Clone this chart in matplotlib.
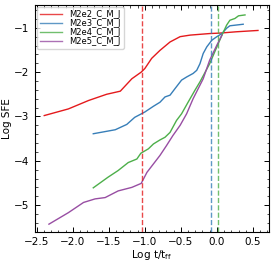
import matplotlib
matplotlib.use("Agg")
import matplotlib.pyplot as plt
from matplotlib.ticker import AutoMinorLocator

# log t/tff and log SFE for each run
x_e2 = [-2.395, -2.06, -1.78, -1.53, -1.34, -1.18, -1.05, -1.00, -0.905, -0.79,
        -0.65, -0.51, -0.37, -0.10, 0.04, 0.27, 0.57]
y_e2 = [-2.98, -2.83, -2.64, -2.50, -2.43, -2.15, -2.00, -1.92, -1.69, -1.51,
        -1.32, -1.20, -1.165, -1.13, -1.12, -1.09, -1.06]

x_e3 = [-1.715, -1.41, -1.25, -1.14, -1.00, -0.88, -0.79, -0.72, -0.65, -0.58,
        -0.49, -0.42, -0.33, -0.28, -0.235, -0.19, -0.14, -0.07, 0.00, 0.07,
        0.135, 0.18, 0.365]
y_e3 = [-3.39, -3.30, -3.18, -3.02, -2.90, -2.77, -2.68, -2.56, -2.52, -2.37,
        -2.18, -2.11, -2.03, -1.96, -1.81, -1.58, -1.43, -1.28, -1.20, -1.13,
        -1.01, -0.955, -0.92]

x_e4 = [-1.715, -1.51, -1.37, -1.23, -1.11, -1.055, -0.95, -0.88, -0.79, -0.72,
        -0.65, -0.56, -0.49, -0.40, -0.305, -0.235, -0.10, 0.00, 0.07, 0.135,
        0.18, 0.25, 0.30, 0.39]
y_e4 = [-4.61, -4.37, -4.22, -4.04, -3.96, -3.83, -3.73, -3.62, -3.53, -3.47,
        -3.36, -3.09, -2.94, -2.68, -2.41, -2.22, -1.81, -1.43, -1.165, -0.94,
        -0.83, -0.79, -0.73, -0.71]

x_e5 = [-2.33, -2.06, -1.85, -1.69, -1.55, -1.37, -1.18, -1.05, -0.97, -0.88,
        -0.79, -0.70, -0.61, -0.51, -0.42, -0.33, -0.19, -0.10, 0.00, 0.07]
y_e5 = [-5.43, -5.17, -4.94, -4.86, -4.83, -4.68, -4.60, -4.51, -4.26, -4.07,
        -3.88, -3.66, -3.43, -3.20, -2.94, -2.60, -2.15, -1.73, -1.39, -1.165]

labels = ["M2e2_C_M_J", "M2e3_C_M_J", "M2e4_C_M_J", "M2e5_C_M_J"]
colors = ["#e41a1c", "#377eb8", "#4daf4a", "#984ea3"]
# free-fall marker positions (only first three runs have one)
vlines = [-1.04, -0.08, 0.02]

fig = plt.figure(figsize=(2.74, 2.63), dpi=100)
ax = fig.add_axes([0.126, 0.119, 0.855, 0.863])

series = [(x_e2, y_e2), (x_e3, y_e3), (x_e4, y_e4), (x_e5, y_e5)]
for (xs, ys), lab, c in zip(series, labels, colors):
    ax.plot(xs, ys, color=c, lw=1.0, label=lab)

for xv, c in zip(vlines, colors):
    ax.axvline(xv, color=c, ls="--", lw=1.0, alpha=0.8)

ax.set_xlim(-2.53, 0.72)
ax.set_ylim(-5.6, -0.48)
ax.set_xticks([-2.5, -2.0, -1.5, -1.0, -0.5, 0.0, 0.5])
ax.set_yticks([-5, -4, -3, -2, -1])
ax.xaxis.set_minor_locator(AutoMinorLocator(5))
ax.yaxis.set_minor_locator(AutoMinorLocator(5))
ax.tick_params(which="both", direction="in", top=True, right=True, labelsize=7.5)
ax.tick_params(which="major", length=3.5, width=0.7)
ax.tick_params(which="minor", length=1.8, width=0.5)
for s in ax.spines.values():
    s.set_linewidth(0.8)

ax.set_xlabel(r"Log t/t$_{\rm ff}$", fontsize=7.5, labelpad=1)
ax.set_ylabel("Log SFE", fontsize=7.5, labelpad=2)

leg = ax.legend(loc="upper left", fontsize=6, labelspacing=0.0,
                handlelength=2.7, handletextpad=0.9, borderaxespad=0.25,
                borderpad=0.35, framealpha=0.8)
for h in leg.get_lines():
    h.set_alpha(0.8)

fig.savefig("out.png", dpi=100)
